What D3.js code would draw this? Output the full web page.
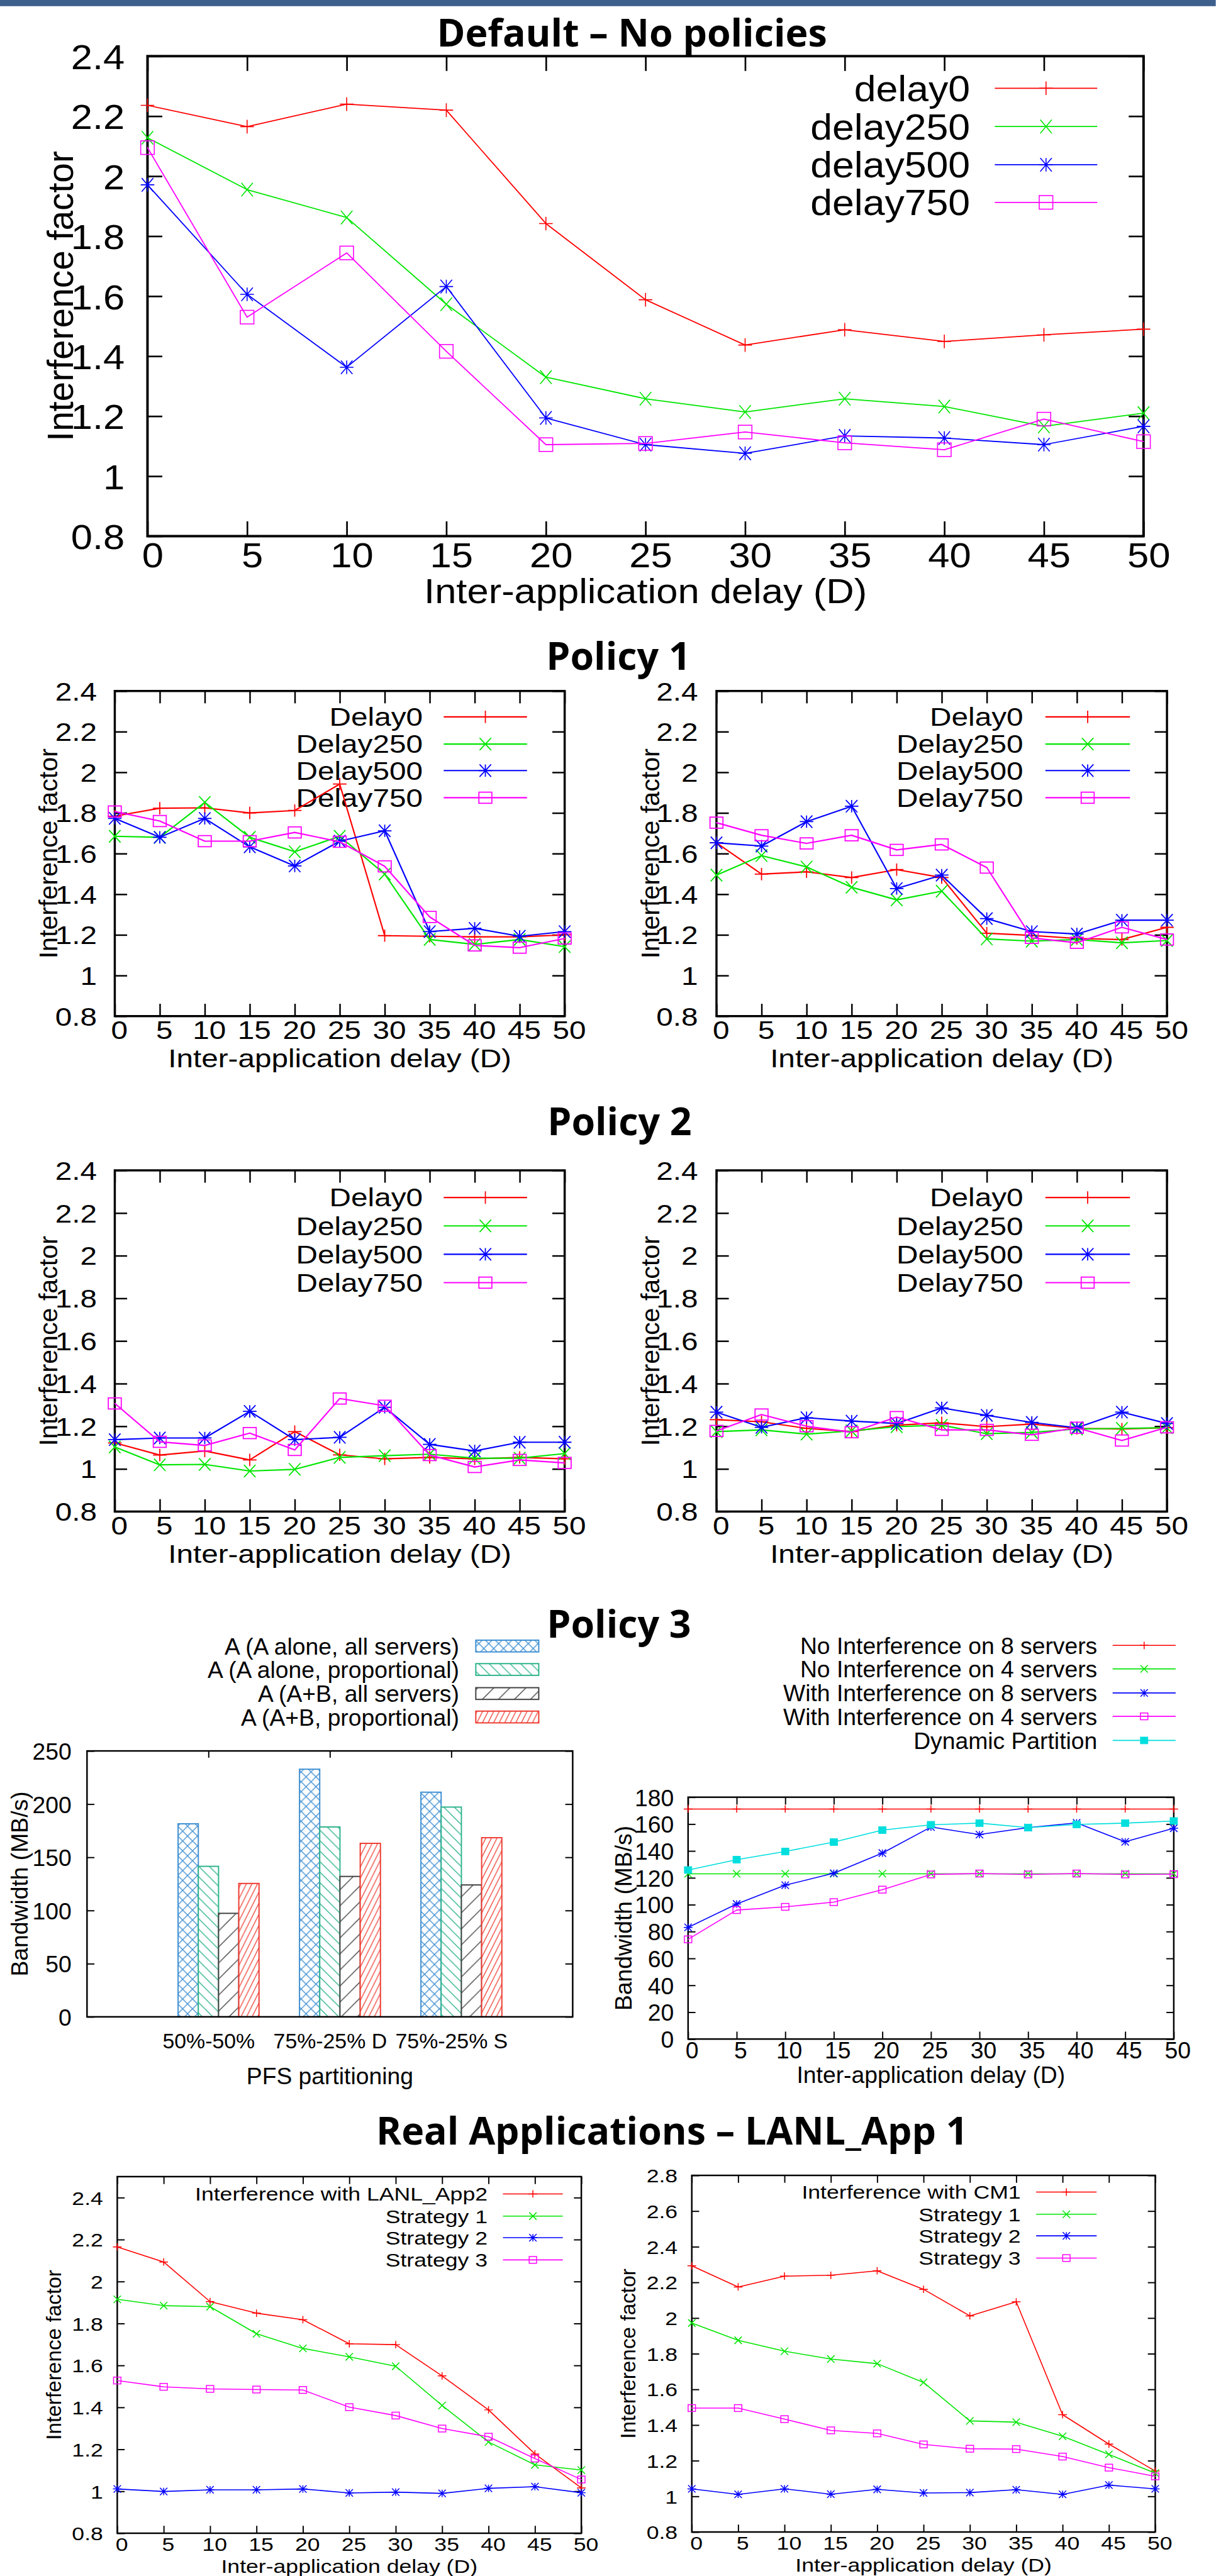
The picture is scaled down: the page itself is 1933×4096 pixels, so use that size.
<!DOCTYPE html>
<html><head><meta charset="utf-8">
<script src="https://cdn.jsdelivr.net/npm/d3@7"></script>
<style>html,body{margin:0;padding:0;background:#fff;} svg{display:block;}</style>
</head><body>
<svg id="c" width="1933" height="4096"></svg>
<script>
// ---------------- DATA ----------------
const delays = [0,5,10,15,20,25,30,35,40,45,50];
const factorTicks = [0.8,1,1.2,1.4,1.6,1.8,2,2.2,2.4];
const factorTicksWide = [0.8,1,1.2,1.4,1.6,1.8,2,2.2,2.4,2.6,2.8];
const bwTicksLine = [0,20,40,60,80,100,120,140,160,180];
const bwTicksBar = [0,50,100,150,200,250];

const defaultNames = ["delay0","delay250","delay500","delay750"];
const policyNames = ["Delay0","Delay250","Delay500","Delay750"];

// Default - No policies
const def_delay0   = [2.236,2.165,2.240,2.220,1.842,1.588,1.437,1.488,1.449,1.471,1.490];
const def_delay250 = [2.128,1.955,1.862,1.573,1.330,1.258,1.214,1.258,1.232,1.166,1.210];
const def_delay500 = [1.971,1.606,1.363,1.632,1.194,1.105,1.076,1.134,1.127,1.105,1.166];
const def_delay750 = [2.095,1.530,1.744,1.416,1.105,1.109,1.147,1.111,1.088,1.190,1.115];

// Policy 1
const p1a_delay0   = [1.784,1.823,1.825,1.800,1.812,1.942,1.196,1.193,1.190,1.190,1.200];
const p1a_delay250 = [1.685,1.680,1.852,1.680,1.609,1.685,1.499,1.177,1.153,1.177,1.142];
const p1a_delay500 = [1.773,1.680,1.773,1.633,1.539,1.661,1.712,1.216,1.232,1.193,1.216];
const p1a_delay750 = [1.807,1.760,1.661,1.661,1.704,1.658,1.537,1.288,1.148,1.137,1.182];
const p1b_delay0   = [1.653,1.499,1.510,1.482,1.521,1.482,1.208,1.197,1.182,1.177,1.237];
const p1b_delay250 = [1.494,1.590,1.534,1.434,1.372,1.415,1.180,1.169,1.177,1.161,1.172];
const p1b_delay500 = [1.653,1.637,1.757,1.833,1.428,1.494,1.280,1.216,1.204,1.272,1.272];
const p1b_delay750 = [1.752,1.690,1.650,1.690,1.618,1.645,1.531,1.185,1.161,1.237,1.177];

// Policy 2
const p2a_delay0   = [1.122,1.065,1.084,1.042,1.175,1.066,1.047,1.054,1.047,1.054,1.047];
const p2a_delay250 = [1.103,1.019,1.021,0.990,0.998,1.054,1.062,1.069,1.050,1.050,1.072];
const p2a_delay500 = [1.137,1.145,1.145,1.270,1.137,1.148,1.289,1.115,1.084,1.125,1.125];
const p2a_delay750 = [1.307,1.127,1.110,1.168,1.089,1.330,1.296,1.065,1.009,1.042,1.028];
const p2b_delay0   = [1.231,1.221,1.190,1.175,1.205,1.216,1.198,1.210,1.190,1.187,1.193];
const p2b_delay250 = [1.175,1.183,1.163,1.178,1.198,1.205,1.165,1.171,1.187,1.190,1.193];
const p2b_delay500 = [1.266,1.195,1.240,1.224,1.213,1.286,1.251,1.218,1.193,1.266,1.213];
const p2b_delay750 = [1.178,1.255,1.200,1.172,1.243,1.183,1.183,1.160,1.193,1.133,1.195];

// Policy 3 - bars
const partitions = ["50%-50%","75%-25% D","75%-25% S"];
const barNames = ["A (A alone, all servers)","A (A alone, proportional)","A (A+B, all servers)","A (A+B, proportional)"];
const bw_alone_all  = [181.5,232.8,211.2];
const bw_alone_prop = [141.5,178.5,197.2];
const bw_ab_all     = [97.3,132.0,124.0];
const bw_ab_prop    = [125.4,163.1,168.4];

// Policy 3 - lines
const p3Names = ["No Interference on 8 servers","No Interference on 4 servers","With Interference on 8 servers","With Interference on 4 servers","Dynamic Partition"];
const noint8   = [171.2,171.2,171.2,171.2,171.2,171.2,171.2,171.2,171.2,171.2,171.2];
const noint4   = [123.0,123.0,123.0,123.0,123.0,123.0,123.0,123.0,123.0,123.0,123.0];
const withint8 = [83.1,100.5,114.5,123.4,138.4,157.8,152.2,157.4,160.9,146.8,156.9];
const withint4 = [74.2,96.0,98.4,101.9,111.2,122.5,123.2,122.5,123.2,122.5,122.7];
const dynpart  = [125.8,133.5,139.6,146.6,155.5,159.5,160.7,157.4,159.7,160.7,162.3];

// Real applications
const raLeftNames  = ["Interference with LANL_App2","Strategy 1","Strategy 2","Strategy 3"];
const raRightNames = ["Interference with CM1","Strategy 1","Strategy 2","Strategy 3"];
const ra1_interf = [2.165,2.093,1.904,1.849,1.818,1.703,1.699,1.550,1.388,1.178,1.016];
const ra1_s1     = [1.915,1.885,1.880,1.751,1.681,1.641,1.596,1.409,1.235,1.126,1.101];
const ra1_s2     = [1.011,0.999,1.007,1.007,1.011,0.992,0.996,0.990,1.014,1.022,0.993];
const ra1_s3     = [1.528,1.498,1.488,1.485,1.483,1.401,1.361,1.299,1.260,1.156,1.056];
const ra2_interf = [2.293,2.174,2.235,2.240,2.265,2.161,2.012,2.091,1.458,1.293,1.142];
const ra2_s1     = [1.972,1.875,1.814,1.770,1.744,1.639,1.423,1.416,1.337,1.235,1.130];
const ra2_s2     = [1.042,1.011,1.042,1.012,1.039,1.019,1.021,1.037,1.011,1.063,1.042];
const ra2_s3     = [1.495,1.495,1.433,1.370,1.353,1.291,1.267,1.265,1.223,1.161,1.112];

// ---------------- RENDER ----------------
const SANS = "'Liberation Sans', Arial, Helvetica, sans-serif";
const TITLE = "'Open Sans', 'Noto Sans', sans-serif";
const C = {red:'#ff0000', green:'#00e600', blue:'#0000ff', magenta:'#ff00ff', cyan:'#00dede'};

const svg = d3.select('#c');
const defs = svg.append('defs');
const root = svg.append('g').attr('transform','scale(0.981)');
root.append('rect').attr('width',1970).attr('height',4175).attr('fill','#fff');
root.append('rect').attr('width',1970).attr('height',10).attr('fill','#3d5f8c');

function title(str, cx, by){
  root.append('text').attr('x',cx).attr('y',by).attr('text-anchor','middle')
    .attr('font-family',TITLE).attr('font-weight',700).attr('font-size',62).attr('fill','#000').text(str);
}
function stext(parent, x, y, str, fs, sx, anchor){
  return parent.append('text').attr('transform',`translate(${x},${y}) scale(${sx},1)`)
    .attr('text-anchor',anchor||'start').attr('font-family',SANS).attr('font-size',fs)
    .attr('fill','#000').text(str);
}
function vtext(parent, x, y, str, fs){
  return parent.append('text').attr('transform',`translate(${x},${y}) rotate(-90)`)
    .attr('text-anchor','middle').attr('font-family',SANS).attr('font-size',fs)
    .attr('fill','#000').text(str);
}
function marker(g, type, cx, cy, m, color){
  const p = d => g.append('path').attr('d',d).attr('fill','none').attr('stroke',color).attr('stroke-width',m.sw);
  const plus = `M${cx-m.hx},${cy}H${cx+m.hx}M${cx},${cy-m.hy}V${cy+m.hy}`;
  const crs = `M${cx-m.hx*0.85},${cy-m.hy}L${cx+m.hx*0.85},${cy+m.hy}M${cx-m.hx*0.85},${cy+m.hy}L${cx+m.hx*0.85},${cy-m.hy}`;
  if(type==='plus') p(plus);
  else if(type==='cross') p(crs);
  else if(type==='star') p(plus+crs);
  else if(type==='square'){
    g.append('rect').attr('x',cx-m.sx).attr('y',cy-m.sy).attr('width',2*m.sx).attr('height',2*m.sy)
      .attr('fill','none').attr('stroke',color).attr('stroke-width',m.sw);
    g.append('circle').attr('cx',cx).attr('cy',cy).attr('r',Math.max(0.8,m.sw*0.45)).attr('fill',color);
  } else if(type==='fsquare'){
    g.append('rect').attr('x',cx-m.sx).attr('y',cy-m.sy).attr('width',2*m.sx).attr('height',2*m.sy)
      .attr('fill',color).attr('stroke',color).attr('stroke-width',1);
  }
}
function styleAxis(a, c, keepText){
  a.select('.domain').remove();
  a.attr('font-family',null).attr('font-size',null);
  a.selectAll('.tick line').attr('stroke','#000').attr('stroke-width',c.tickW);
  if(!keepText) a.selectAll('.tick text').remove();
  return a;
}
function linePanel(c){
  const g = root.append('g');
  const x = d3.scaleLinear().domain([0,50]).range([c.x0,c.x1]);
  const y = d3.scaleLinear().domain(c.yDomain).range([c.y1,c.y0]);
  const fmt = c.yFmt || (v => String(+v.toFixed(1)));
  const aB = styleAxis(g.append('g').attr('transform',`translate(0,${c.y1})`)
    .call(d3.axisBottom(x).tickValues(delays).tickSize(-c.tickLen).tickSizeOuter(0)), c, true);
  aB.selectAll('.tick text').attr('x',c.xDx/c.sx).attr('y',c.xTickBase-c.y1).attr('dy',null)
    .attr('transform',`scale(${c.sx},1)`).attr('font-size',c.fs).attr('font-family',SANS)
    .attr('fill','#000').attr('text-anchor','middle');
  styleAxis(g.append('g').attr('transform',`translate(0,${c.y0})`)
    .call(d3.axisTop(x).tickValues(delays).tickSize(-c.tickLen).tickSizeOuter(0)), c, false);
  const aL = styleAxis(g.append('g').attr('transform',`translate(${c.x0},0)`)
    .call(d3.axisLeft(y).tickValues(c.yTicks).tickFormat(fmt).tickSize(-c.tickLen).tickSizeOuter(0)), c, true);
  aL.selectAll('.tick text').attr('x',-c.yGap/c.sx).attr('y',0.36*c.fs).attr('dy',null)
    .attr('transform',`scale(${c.sx},1)`).attr('font-size',c.fs).attr('font-family',SANS)
    .attr('fill','#000').attr('text-anchor','end');
  styleAxis(g.append('g').attr('transform',`translate(${c.x1},0)`)
    .call(d3.axisRight(y).tickValues(c.yTicks).tickSize(-c.tickLen).tickSizeOuter(0)), c, false);
  g.append('rect').attr('x',c.x0).attr('y',c.y0).attr('width',c.x1-c.x0).attr('height',c.y1-c.y0)
    .attr('fill','none').attr('stroke','#000').attr('stroke-width',c.frameW);
  // legend
  c.series.forEach((s,i)=>{
    const ry = c.leg.rows[i];
    stext(g, c.leg.tx, ry+0.36*c.legFs, s.name, c.legFs, c.sx, 'end');
    g.append('line').attr('x1',c.leg.lx0).attr('x2',c.leg.lx1).attr('y1',ry).attr('y2',ry)
      .attr('stroke',s.color).attr('stroke-width',c.lineW);
    marker(g, s.mk, (c.leg.lx0+c.leg.lx1)/2, ry, c.mk, s.color);
  });
  // data
  const line = d3.line().x((d,i)=>x(delays[i])).y(d=>y(d));
  c.series.forEach(s=>{
    g.append('path').attr('d',line(s.values)).attr('fill','none').attr('stroke',s.color)
      .attr('stroke-width',c.lineW).attr('stroke-linejoin','round');
    s.values.forEach((v,i)=>marker(g, s.mk, x(delays[i]), y(v), c.mk, s.color));
  });
  stext(g, (c.x0+c.x1)/2, c.xLabBase, c.xLabel, c.fs, c.sx, 'middle');
  vtext(g, c.yLabX, (c.y0+c.y1)/2, c.yLabel, c.yLabFs);
}

const MK4 = ['plus','cross','star','square'];
const COL4 = [C.red,C.green,C.blue,C.magenta];
function ser(names, arrs){ return arrs.map((a,i)=>({name:names[i], values:a, color:COL4[i], mk:MK4[i]})); }

// ---- Default ----
title("Default \u2013 No policies", 1024, 75);
linePanel({x0:239,x1:1853,y0:91,y1:869,yDomain:[0.8,2.4],yTicks:factorTicks,
  fs:57,legFs:58,sx:1.1,tickLen:24,tickW:2.7,frameW:4,lineW:1.8,
  mk:{hx:11,hy:11,sx:11,sy:11,sw:1.6},xDx:8,xTickBase:919,yGap:37,
  xLabel:"Inter-application delay (D)",xLabBase:978,yLabel:"Interference factor",yLabX:118,yLabFs:58,
  leg:{tx:1572,lx0:1612,lx1:1778,rows:[143,205,267,328]},
  series:ser(defaultNames,[def_delay0,def_delay250,def_delay500,def_delay750])});

// ---- Policy 1 / 2 ----
const polBase = {fs:40.5,legFs:40.5,sx:1.2,tickLen:20,tickW:2.5,frameW:3.5,lineW:2.2,
  mk:{hx:11,hy:10,sx:10.5,sy:9,sw:1.8},xDx:7,yGap:29,yDomain:[0.8,2.4],yTicks:factorTicks,
  xLabel:"Inter-application delay (D)",yLabel:"Interference factor",yLabFs:42};
title("Policy 1", 1002, 1086);
linePanel(Object.assign({},polBase,{x0:186,x1:915,y0:1120,y1:1647,xTickBase:1684,xLabBase:1730,yLabX:93,
  leg:{tx:685,lx0:719,lx1:854,rows:[1162,1206,1249,1293]},
  series:ser(policyNames,[p1a_delay0,p1a_delay250,p1a_delay500,p1a_delay750])}));
linePanel(Object.assign({},polBase,{x0:1161,x1:1891,y0:1120,y1:1647,xTickBase:1684,xLabBase:1730,yLabX:1068,yGap:30,
  leg:{tx:1658,lx0:1694,lx1:1831,rows:[1162,1206,1249,1293]},
  series:ser(policyNames,[p1b_delay0,p1b_delay250,p1b_delay500,p1b_delay750])}));
title("Policy 2", 1004, 1840);
linePanel(Object.assign({},polBase,{x0:186,x1:915,y0:1897,y1:2450,xTickBase:2487,xLabBase:2533,yLabX:93,
  leg:{tx:685,lx0:719,lx1:854,rows:[1941,1987,2033,2079]},
  series:ser(policyNames,[p2a_delay0,p2a_delay250,p2a_delay500,p2a_delay750])}));
linePanel(Object.assign({},polBase,{x0:1161,x1:1891,y0:1897,y1:2450,xTickBase:2487,xLabBase:2533,yLabX:1068,yGap:30,
  leg:{tx:1658,lx0:1694,lx1:1831,rows:[1941,1987,2033,2079]},
  series:ser(policyNames,[p2b_delay0,p2b_delay250,p2b_delay500,p2b_delay750])}));

// ---- Policy 3 ----
title("Policy 3", 1003, 2654);

function pattern(id, w, h, d, color, sw){
  const p = defs.append('pattern').attr('id',id).attr('patternUnits','userSpaceOnUse')
    .attr('width',w).attr('height',h);
  p.append('path').attr('d',d).attr('fill','none').attr('stroke',color).attr('stroke-width',sw);
}
const barColors = ['#3f8fd2','#2db38b','#404040','#ee3b30'];
pattern('patBlue',16,16,'M0,0L16,16M16,0L0,16M-2,2L2,-2M14,18L18,14M-2,14L2,18M14,-2L18,2',barColors[0],1.4);
pattern('patGreen',17,17,'M0,0L17,17M-4,13L4,21M13,-4L21,4',barColors[1],1.4);
pattern('patBlack',26,26,'M0,26L26,0M-6,6L6,-6M20,32L32,20',barColors[2],1.4);
pattern('patRed',9,18,'M0,18L9,0M-2,4L2,-4M7,22L11,14',barColors[3],1.3);
const barPats = ['patBlue','patGreen','patBlack','patRed'];

(function barPanel(){
  const c = {x0:141,x1:928,y0:2838,y1:3269,tickW:2,frameW:2.5};
  const g = root.append('g');
  const x = d3.scaleLinear().domain([-1,3]).range([c.x0,c.x1]);
  const y = d3.scaleLinear().domain([0,250]).range([c.y1,c.y0]);
  const groups = [0,1,2];
  styleAxis(g.append('g').attr('transform',`translate(0,${c.y0})`)
    .call(d3.axisTop(x).tickValues(groups).tickSize(-11).tickSizeOuter(0)), c, false);
  const aB = styleAxis(g.append('g').attr('transform',`translate(0,${c.y1})`)
    .call(d3.axisBottom(x).tickValues(groups).tickFormat(i=>partitions[i]).tickSize(0).tickSizeOuter(0)), c, true);
  aB.selectAll('.tick text').attr('y',3320-c.y1).attr('dy',null).attr('font-size',34.5)
    .attr('font-family',SANS).attr('fill','#000').attr('text-anchor','middle');
  const aL = styleAxis(g.append('g').attr('transform',`translate(${c.x0},0)`)
    .call(d3.axisLeft(y).tickValues(bwTicksBar).tickSize(-12).tickSizeOuter(0)), c, true);
  aL.selectAll('.tick text').attr('x',-25).attr('y',0.36*38).attr('dy',null).attr('font-size',38)
    .attr('font-family',SANS).attr('fill','#000').attr('text-anchor','end');
  styleAxis(g.append('g').attr('transform',`translate(${c.x1},0)`)
    .call(d3.axisRight(y).tickValues(bwTicksBar).tickSize(-12).tickSizeOuter(0)), c, false);
  const w = (x(1)-x(0))/6;
  const sets = [bw_alone_all,bw_alone_prop,bw_ab_all,bw_ab_prop];
  sets.forEach((vals,si)=>{
    vals.forEach((v,gi)=>{
      g.append('rect').attr('x',x(groups[gi])+(si-1.5)*w).attr('y',y(v)).attr('width',w).attr('height',y(0)-y(v))
        .attr('fill','#fff').attr('stroke','none');
      g.append('rect').attr('x',x(groups[gi])+(si-1.5)*w).attr('y',y(v)).attr('width',w).attr('height',y(0)-y(v))
        .attr('fill',`url(#${barPats[si]})`).attr('stroke',barColors[si]).attr('stroke-width',2);
    });
  });
  g.append('rect').attr('x',c.x0).attr('y',c.y0).attr('width',c.x1-c.x0).attr('height',c.y1-c.y0)
    .attr('fill','none').attr('stroke','#000').attr('stroke-width',c.frameW);
  const rows = [2668,2706,2745,2783];
  barNames.forEach((n,i)=>{
    stext(g, 744, rows[i]+0.36*38, n, 38, 1, 'end');
    g.append('rect').attr('x',771).attr('y',rows[i]-9.5).attr('width',102).attr('height',19)
      .attr('fill',`url(#${barPats[i]})`).attr('stroke',barColors[i]).attr('stroke-width',2);
  });
  stext(g, (c.x0+c.x1)/2, 3378, "PFS partitioning", 38, 1, 'middle');
  vtext(g, 45, (c.y0+c.y1)/2, "Bandwidth (MB/s)", 38);
})();

linePanel({x0:1115,x1:1902,y0:2913,y1:3305,yDomain:[0,180],yTicks:bwTicksLine,yFmt:d=>String(d),
  fs:38,legFs:38,sx:1,tickLen:12,tickW:2,frameW:2.5,lineW:1.6,
  mk:{hx:7,hy:6,sx:6,sy:5.5,sw:1.5},xDx:6,xTickBase:3336,yGap:23,
  xLabel:"Inter-application delay (D)",xLabBase:3376,yLabel:"Bandwidth (MB/s)",yLabX:1023,yLabFs:38,
  leg:{tx:1778,lx0:1803,lx1:1905,rows:[2667,2705,2744,2782,2821]},
  series:[
    {name:p3Names[0],values:noint8,color:C.red,mk:'plus'},
    {name:p3Names[1],values:noint4,color:C.green,mk:'cross'},
    {name:p3Names[2],values:withint8,color:C.blue,mk:'star'},
    {name:p3Names[3],values:withint4,color:C.magenta,mk:'square'},
    {name:p3Names[4],values:dynpart,color:C.cyan,mk:'fsquare'}]});

// ---- Real Applications ----
title("Real Applications \u2013 LANL_App 1", 1089, 3476);
const raBase = {fs:30.5,legFs:30.5,sx:1.19,tickLen:12,tickW:2,frameW:2.5,lineW:1.6,
  mk:{hx:7,hy:6,sx:6,sy:5.5,sw:1.5},xDx:7,yGap:23,
  xLabel:"Inter-application delay (D)",yLabel:"Interference factor",yLabFs:34};
linePanel(Object.assign({},raBase,{x0:190,x1:942,y0:3528,y1:4106,yDomain:[0.8,2.5],yTicks:factorTicks,
  xTickBase:4135,xLabBase:4170,yLabX:99,
  leg:{tx:790,lx0:815,lx1:912,rows:[3556,3592,3627,3663]},
  series:ser(raLeftNames,[ra1_interf,ra1_s1,ra1_s2,ra1_s3])}));
linePanel(Object.assign({},raBase,{x0:1121,x1:1872,y0:3526,y1:4104,yDomain:[0.8,2.8],yTicks:factorTicksWide,
  xTickBase:4133,xLabBase:4168,yLabX:1030,
  leg:{tx:1654,lx0:1679,lx1:1777,rows:[3553,3589,3624,3660]},
  series:ser(raRightNames,[ra2_interf,ra2_s1,ra2_s2,ra2_s3])}));
</script>
</body></html>
